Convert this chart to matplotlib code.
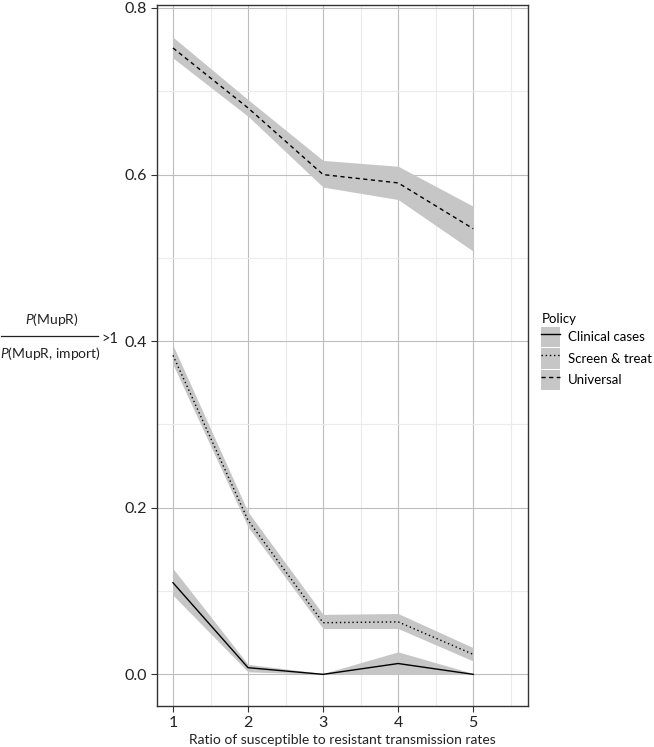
import matplotlib
matplotlib.use('Agg')
import matplotlib.pyplot as plt
import numpy as np
from matplotlib.patches import Patch
from matplotlib.lines import Line2D

plt.rcParams['font.family'] = ['Lato', 'DejaVu Sans']
plt.rcParams['mathtext.fontset'] = 'custom'
plt.rcParams['mathtext.rm'] = 'Lato'
plt.rcParams['mathtext.it'] = 'Lato:italic'

# data
ratio = [1, 2, 3, 4, 5]
policies = ['Clinical cases', 'Screen & treat', 'Universal']
clinical = [0.110, 0.008, 0.000, 0.013, 0.000]
clinical_lo = [0.095, 0.003, 0.000, 0.000, 0.000]
clinical_hi = [0.127, 0.012, 0.001, 0.027, 0.001]
screen = [0.383, 0.185, 0.062, 0.063, 0.024]
screen_lo = [0.372, 0.177, 0.055, 0.055, 0.016]
screen_hi = [0.395, 0.195, 0.072, 0.073, 0.032]
universal = [0.752, 0.680, 0.600, 0.590, 0.535]
universal_lo = [0.740, 0.670, 0.585, 0.570, 0.508]
universal_hi = [0.765, 0.690, 0.617, 0.610, 0.562]

band_col = '#c6c6c6'
txt_col = '#222222'
styles = ['-', (0, (1, 2)), (0, (3, 2.5))]

fig = plt.figure(figsize=(6.54, 7.47), dpi=100)
ax = fig.add_axes([157/654, 1 - 706/747, (528 - 157)/654, (706 - 5)/747])

series = [(clinical, clinical_lo, clinical_hi),
          (screen, screen_lo, screen_hi),
          (universal, universal_lo, universal_hi)]
for (y, lo, hi), ls in zip(series, styles):
    ax.fill_between(ratio, lo, hi, color=band_col, lw=0, zorder=2)
    ax.plot(ratio, y, color='black', lw=1.0, ls=ls, zorder=3)

ax.set_xlim(0.787, 5.73)
ax.set_ylim(-0.038, 0.8036)
ax.set_xticks([1, 2, 3, 4, 5])
ax.set_xticks([1.5, 2.5, 3.5, 4.5, 5.5], minor=True)
ax.set_yticks([0.0, 0.2, 0.4, 0.6, 0.8])
ax.set_yticklabels(['0.0', '0.2', '0.4', '0.6', '0.8'])
ax.set_yticks([0.1, 0.3, 0.5, 0.7], minor=True)
ax.grid(which='major', color='#bdbdbd', lw=0.8, zorder=0)
ax.grid(which='minor', color='#ebebeb', lw=0.8, zorder=0)
ax.set_axisbelow(True)
ax.tick_params(which='major', length=4, width=0.8, color='#333333',
               labelsize=11.5, labelcolor=txt_col, pad=3)
ax.tick_params(which='minor', length=0)
for sp in ax.spines.values():
    sp.set_color('#333333')
    sp.set_linewidth(1.0)

ax.set_xlabel('Ratio of susceptible to resistant transmission rates',
              fontsize=10, color=txt_col, labelpad=3)

# y label drawn as a stacked fraction
fig.text(52/654, 1 - 320/747, r'$\mathit{P}$(MupR)', fontsize=10,
         ha='center', va='center', color=txt_col)
fig.text(50/654, 1 - 353/747, r'$\mathit{P}$(MupR, import)', fontsize=10,
         ha='center', va='center', color=txt_col)
fig.add_artist(Line2D([1/654, 98/654], [1 - 336/747, 1 - 336/747],
                      color=txt_col, lw=0.9))
fig.text(101/654, 1 - 339/747, '>1', fontsize=10.5, ha='left', va='center',
         color=txt_col)

handles = [(Patch(facecolor=band_col, edgecolor='none'),
            Line2D([], [], color='black', lw=1.0, ls=ls)) for ls in styles]
leg = fig.legend(handles, policies, title='Policy', loc='upper left',
                 bbox_to_anchor=(536/654, 1 - 308/747), frameon=False,
                 fontsize=9.5, title_fontsize=9.5, handlelength=1.4,
                 handleheight=2.0, handletextpad=0.6, labelspacing=0.1,
                 borderaxespad=0)
leg._legend_box.align = 'left'

fig.savefig('out.png', dpi=100)
